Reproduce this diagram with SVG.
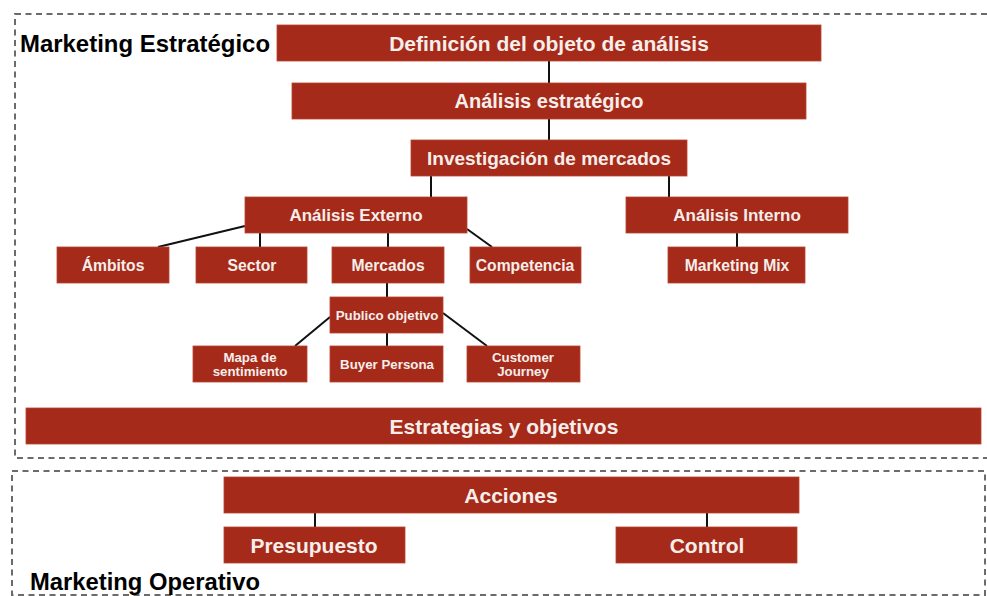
<svg xmlns="http://www.w3.org/2000/svg" width="987" height="596" viewBox="0 0 987 596">
<style>
.frame{fill:none;stroke:#6b6b6b;stroke-width:2;stroke-dasharray:6 4.5}
.box{fill:#a52a1a;stroke:#b8442f;stroke-width:0.8}
.t{fill:#f6eeea;font-family:"Liberation Sans",Arial,sans-serif;font-weight:bold;text-anchor:middle;dominant-baseline:central}
.title{fill:#000;font-family:"Liberation Sans",Arial,sans-serif;font-weight:bold;font-size:24px}
.c{stroke:#111;stroke-width:2;fill:none}
</style>
<rect width="987" height="596" fill="#fff"/>
<g id="frames">
<rect class="frame" x="15" y="14" width="1000" height="444"/>
<rect class="frame" x="12" y="471" width="973" height="124"/>
</g>
<text class="title" x="20" y="52" textLength="250" lengthAdjust="spacingAndGlyphs">Marketing Estratégico</text>
<text class="title" x="30" y="590" textLength="230" lengthAdjust="spacingAndGlyphs">Marketing Operativo</text>
<g id="connectors">
<line class="c" x1="549" y1="61" x2="549" y2="83"/>
<line class="c" x1="549" y1="119" x2="549" y2="140"/>
<line class="c" x1="431" y1="176" x2="431" y2="197"/>
<line class="c" x1="669" y1="176" x2="669" y2="197"/>
<line class="c" x1="245" y1="226" x2="158" y2="247"/>
<line class="c" x1="260" y1="233" x2="260" y2="247"/>
<line class="c" x1="388" y1="233" x2="388" y2="247"/>
<line class="c" x1="467" y1="229" x2="492" y2="247"/>
<line class="c" x1="737" y1="233" x2="737" y2="247"/>
<line class="c" x1="387" y1="283" x2="387" y2="297"/>
<line class="c" x1="330" y1="317" x2="295" y2="346"/>
<line class="c" x1="387" y1="333" x2="387" y2="346"/>
<line class="c" x1="443" y1="313" x2="487" y2="346"/>
<line class="c" x1="315" y1="513" x2="315" y2="527"/>
<line class="c" x1="707" y1="513" x2="707" y2="527"/>
</g>
<g id="definicion"><rect class="box" x="277" y="25" width="544" height="36"/><text class="t" x="549" y="43" font-size="21">Definición del objeto de análisis</text></g>
<g id="analisis-estrategico"><rect class="box" x="292" y="83" width="514" height="36"/><text class="t" x="549" y="101" font-size="20">Análisis estratégico</text></g>
<g id="investigacion"><rect class="box" x="411" y="140" width="276" height="36"/><text class="t" x="549" y="158" font-size="19">Investigación de mercados</text></g>
<g id="analisis-externo"><rect class="box" x="245" y="197" width="222" height="36"/><text class="t" x="356" y="215" font-size="17">Análisis Externo</text></g>
<g id="analisis-interno"><rect class="box" x="626" y="197" width="222" height="36"/><text class="t" x="737" y="215" font-size="17">Análisis Interno</text></g>
<g id="ambitos"><rect class="box" x="57" y="247" width="112" height="36"/><text class="t" x="113" y="265" font-size="15.7">Ámbitos</text></g>
<g id="sector"><rect class="box" x="196" y="247" width="111" height="36"/><text class="t" x="252" y="265" font-size="15.7">Sector</text></g>
<g id="mercados"><rect class="box" x="332" y="247" width="112" height="36"/><text class="t" x="388" y="265" font-size="15.7">Mercados</text></g>
<g id="competencia"><rect class="box" x="470" y="247" width="111" height="36"/><text class="t" x="525" y="265" font-size="15.7">Competencia</text></g>
<g id="marketing-mix"><rect class="box" x="668" y="247" width="137" height="36"/><text class="t" x="737" y="265" font-size="15.7">Marketing Mix</text></g>
<g id="publico-objetivo"><rect class="box" x="330" y="297" width="113" height="36"/><text class="t" x="387" y="315" font-size="13.3">Publico objetivo</text></g>
<g id="mapa-sentimiento"><rect class="box" x="193" y="346" width="114" height="36"/><text class="t" x="250" y="357" font-size="13.3">Mapa de</text><text class="t" x="250" y="371.5" font-size="13.3">sentimiento</text></g>
<g id="buyer-persona"><rect class="box" x="330" y="346" width="113" height="36"/><text class="t" x="387" y="364" font-size="13.3">Buyer Persona</text></g>
<g id="customer-journey"><rect class="box" x="467" y="346" width="113" height="36"/><text class="t" x="523" y="357" font-size="13.3">Customer</text><text class="t" x="523" y="371.5" font-size="13.3">Journey</text></g>
<g id="estrategias"><rect class="box" x="26" y="408" width="955" height="36"/><text class="t" x="504" y="426" font-size="21">Estrategias y objetivos</text></g>
<g id="acciones"><rect class="box" x="224" y="477" width="575" height="36"/><text class="t" x="511" y="495" font-size="21">Acciones</text></g>
<g id="presupuesto"><rect class="box" x="224" y="527" width="181" height="36"/><text class="t" x="314" y="545" font-size="21">Presupuesto</text></g>
<g id="control"><rect class="box" x="616" y="527" width="181" height="36"/><text class="t" x="707" y="545" font-size="21">Control</text></g>
</svg>
